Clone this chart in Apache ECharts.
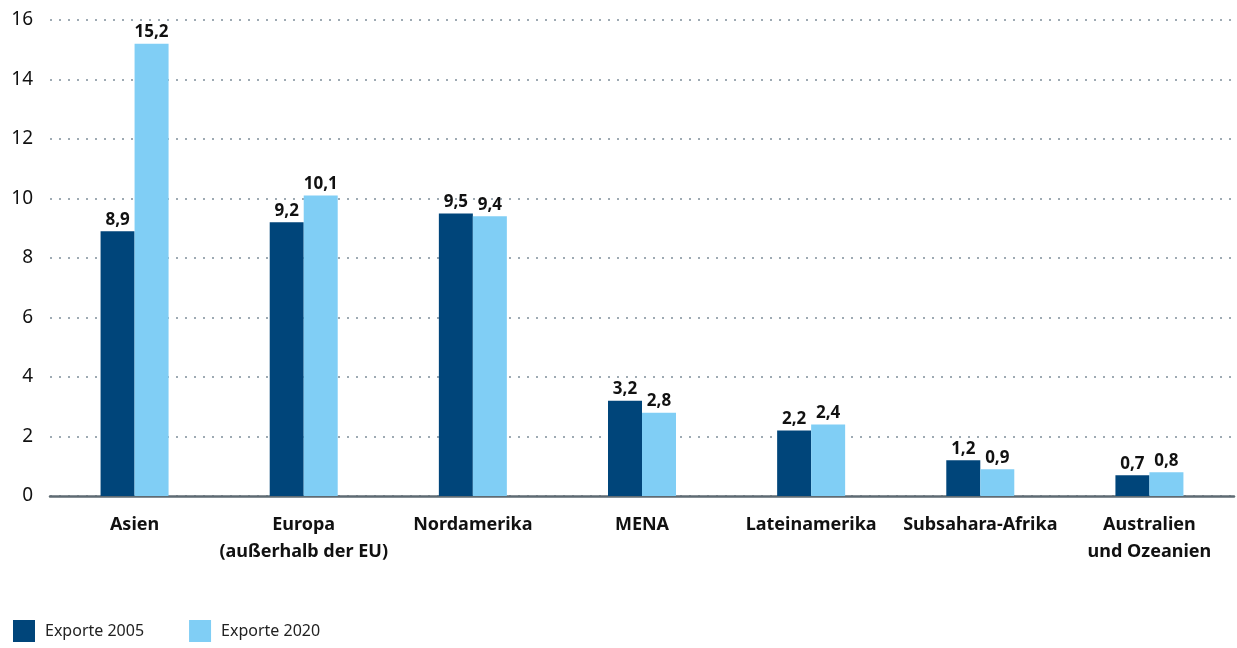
<!DOCTYPE html>
<html>
<head>
<meta charset="utf-8">
<script src="https://cdn.jsdelivr.net/npm/echarts@6/dist/echarts.min.js"></script>
<style>
  html, body { margin: 0; padding: 0; background: #fff; }
  #chart { width: 1237px; height: 648px; }
</style>
</head>
<body>
<div id="chart"></div>
<script>
// Regionen
var regions = ['Asien', 'Europa\n(außerhalb der EU)', 'Nordamerika', 'MENA', 'Lateinamerika', 'Subsahara-Afrika', 'Australien\nund Ozeanien'];
var exporte2005 = [8.9, 9.2, 9.5, 3.2, 2.2, 1.2, 0.7];
var exporte2020 = [15.2, 10.1, 9.4, 2.8, 2.4, 0.9, 0.8];
var seriesNames = ['Exporte 2005', 'Exporte 2020'];

var FONT = '"Noto Sans", sans-serif';

var chart = echarts.init(document.getElementById('chart'), null, { renderer: 'canvas' });

function valueLabel() {
  return {
    show: true,
    position: 'top',
    distance: 3,
    color: '#111',
    fontFamily: FONT,
    fontWeight: 'bold',
    fontSize: 17,
    formatter: function (p) { return String(p.value).replace('.', ','); }
  };
}

var option = {
  animation: false,
  textStyle: { fontFamily: FONT },
  grid: { left: 50, right: 3, top: 20, bottom: 152, containLabel: false },
  legend: {
    data: seriesNames,
    left: 13,
    top: 620,
    padding: 0,
    itemWidth: 22,
    itemHeight: 22,
    itemGap: 45,
    icon: 'rect',
    textStyle: { fontSize: 16, color: '#222', fontFamily: FONT, padding: [6, 0, 0, 5] }
  },
  xAxis: {
    type: 'category',
    data: regions,
    axisTick: { show: false },
    axisLine: { lineStyle: { color: '#5f6b73', width: 2.5 } },
    axisLabel: {
      color: '#111',
      fontWeight: 'bold',
      fontSize: 18,
      lineHeight: 27,
      margin: 15,
      interval: 0,
      fontFamily: FONT
    }
  },
  yAxis: {
    type: 'value',
    min: 0,
    max: 16,
    interval: 2,
    axisLine: { show: false },
    axisTick: { show: false },
    axisLabel: { color: '#111', fontSize: 19, margin: 17, fontFamily: FONT },
    splitLine: { lineStyle: { color: '#9eaab3', type: [2, 7], width: 2 } }
  },
  series: [
    {
      name: seriesNames[0],
      type: 'bar',
      data: exporte2005,
      barWidth: 34,
      barGap: '0%',
      itemStyle: { color: '#00457a' },
      label: valueLabel()
    },
    {
      name: seriesNames[1],
      type: 'bar',
      data: exporte2020,
      barWidth: 34,
      barGap: '0%',
      itemStyle: { color: '#80cef5' },
      label: valueLabel()
    }
  ]
};

chart.setOption(option);
</script>
</body>
</html>
